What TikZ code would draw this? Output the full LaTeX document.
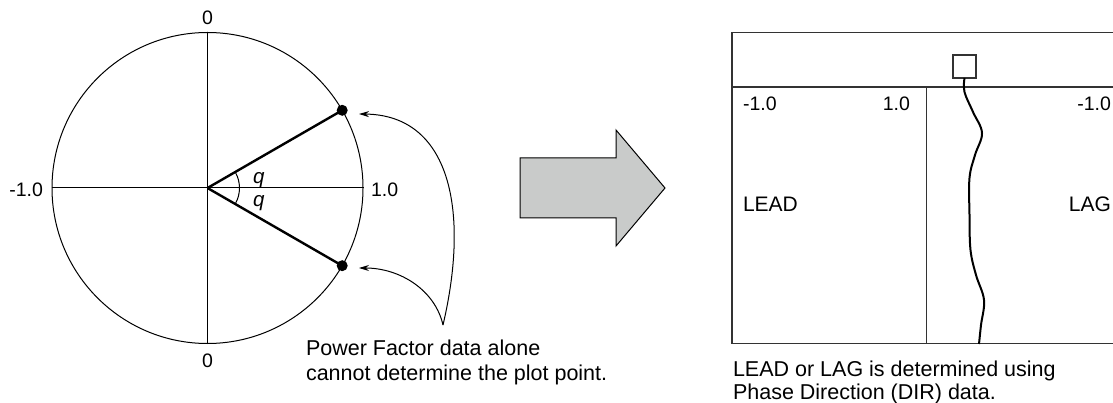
\documentclass[tikz,border=0pt]{standalone}
\usepackage{fontspec}
\setmainfont{Liberation Sans}
\usetikzlibrary{arrows.meta,calc}
\definecolor{arrowgray}{HTML}{C9CBCA}
\definecolor{boxgray}{HTML}{333333}
\begin{document}
\begin{tikzpicture}[x=1pt,y=-1pt,
  lbl/.style={inner sep=0pt, outer sep=0pt, font=\fontsize{19.5}{24.5}\selectfont},
  txt/.style={inner sep=0pt, outer sep=0pt, align=left, anchor=base west},
  axisline/.style={line width=1pt, black},
  ray/.style={line width=2.4pt, black},
  dotnode/.style={circle, fill=black, inner sep=0pt, minimum size=11pt},
  boxline/.style={line width=1.4pt, boxgray},
  pointer/.style={line width=1pt, -{Stealth[length=10pt,width=6pt]}},
  wiggle/.style={line width=2pt, black}]
\useasboundingbox (0,0) rectangle (1113,403);
\clip (0,0) rectangle (1113,403);
% ---- polar circle ----
\coordinate (o) at (207.5,188);
\node[circle, draw, line width=1pt, minimum size=311pt, inner sep=0pt] (circ) at (o) {};
\draw[axisline] (circ.north) -- (circ.south);
\draw[axisline] (circ.west) -- (circ.east);
\node[dotnode] (p1) at (342.2,110.3) {};
\node[dotnode] (p2) at (342.2,265.7) {};
\draw[ray] (o) -- (p1.center);
\draw[ray] (o) -- (p2.center);
\draw[line width=1pt] (235.2,172) arc[start angle=-30, end angle=30, radius=32];
\node[lbl, anchor=base west, font=\fontsize{20.5}{24}\selectfont\itshape] (q1) at (253,183.5) {q};
\node[lbl, anchor=base west, font=\fontsize{20.5}{24}\selectfont\itshape] (q2) at (253,207) {q};
\node[lbl, anchor=base] (z1) at (207.5,24.5) {0};
\node[lbl, anchor=base] (z2) at (207.5,367) {0};
\node[lbl, anchor=base east] (m1) at (43,196.5) {-1.0};
\node[lbl, anchor=base west] (p1lbl) at (371,196.5) {1.0};
% ---- pointers ----
\coordinate (cusp) at (443,325);
\coordinate (t1) at (359,114);
\coordinate (t2) at (359,268);
\draw[pointer] (cusp) .. controls (470,210) and (450,115) .. (t1);
\draw[pointer] (cusp) .. controls (435,290) and (400,268) .. (t2);
\node[txt, font=\fontsize{21.5}{24.5}\selectfont] (note) at (306,380) {Power Factor data alone\\cannot determine the plot point.};
% ---- block arrow ----
\draw[line width=1pt, fill=arrowgray] (520,158) -- (616,158) -- (616,130) -- (665,188) -- (616,246) -- (616,218) -- (520,218) -- cycle;
% ---- chart box ----
\draw[boxline] (1125,32.5) -- (732,32.5) -- (732,343.5) -- (1125,343.5);
\draw[boxline] (732,87) -- (1125,87);
\draw[boxline] (926.5,87) -- (926.5,343.5);
\node[draw, line width=1.2pt, boxgray, minimum size=23pt, inner sep=0pt] (sq) at (964.5,66.5) {};
\draw[wiggle] (sq.south) plot[smooth, tension=0.6] coordinates {(964.5,78) (964.5,92) (973,112) (982,133) (975,155) (969.5,178) (969.5,215) (970.5,250) (976,275) (984,300) (981,325) (979,344)};
\node[lbl, anchor=base west] (r1) at (743,111) {-1.0};
\node[lbl, anchor=base east] (r2) at (910,111) {1.0};
\node[lbl, anchor=base east] (r3) at (1111,111) {-1.0};
\node[lbl, anchor=base west, font=\fontsize{21}{24}\selectfont] (lead) at (743,212) {LEAD};
\node[lbl, anchor=base east, font=\fontsize{21}{24}\selectfont] (lag) at (1111,212) {LAG};
\node[txt, font=\fontsize{21.5}{23}\selectfont] (cap) at (733,399) {LEAD or LAG is determined using\\Phase Direction (DIR) data.};
\end{tikzpicture}
\end{document}
